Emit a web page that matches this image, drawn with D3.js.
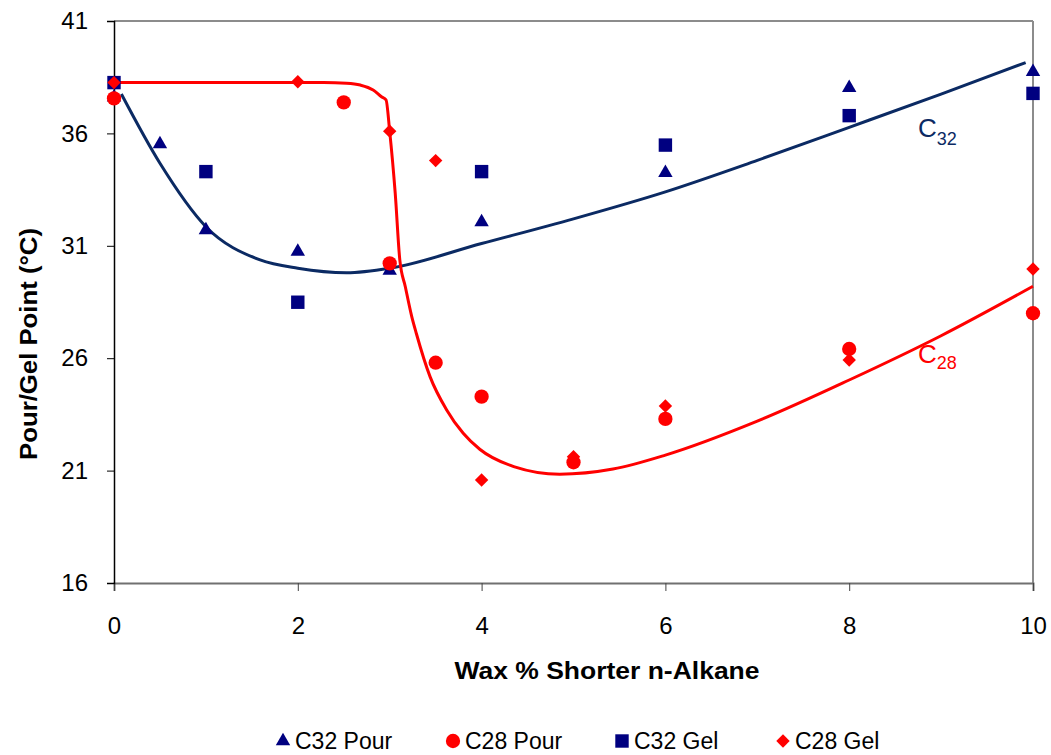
<!DOCTYPE html>
<html><head><meta charset="utf-8">
<script src="https://cdn.jsdelivr.net/npm/d3@7"></script>
<style>
body{margin:0;background:#fff;}
text{font-family:"Liberation Sans",Arial,sans-serif;}
</style></head>
<body><svg id="c" width="1051" height="755"></svg>
<script>
// ---- data ----
const c32PourX = [0, 0.5, 1, 2, 3, 4, 6, 8, 10];
const c32PourY = [37.6, 35.53, 31.7, 30.74, 29.9, 32.05, 34.25, 38.03, 38.74];
const c28PourX = [0, 2.5, 3, 3.5, 4, 5, 6, 8, 10];
const c28PourY = [37.56, 37.38, 30.22, 25.8, 24.29, 21.37, 23.3, 26.41, 28.0];
const c32GelX = [0, 1, 2, 4, 6, 8, 10];
const c32GelY = [38.26, 34.3, 28.49, 34.3, 35.48, 36.79, 37.78];
const c28GelX = [0, 2, 3, 3.5, 4, 5, 6, 8, 10];
const c28GelY = [38.26, 38.3, 36.1, 34.79, 20.58, 21.62, 23.87, 25.92, 29.97];

// fitted trend curves
const c32FitX = [0.08, 0.5, 1.0, 1.59, 2.0, 2.53, 3.0, 4.0, 5.0, 6.0, 7.0, 8.0, 9.0, 9.92];
const c32FitY = [37.75, 34.67, 31.85, 30.37, 30.0, 29.8, 30.0, 31.1, 32.2, 33.4, 34.8, 36.27, 37.75, 39.15];
const c28FitX = [0, 1, 2, 2.28, 2.53, 2.68, 2.82, 2.91, 2.96, 3.0, 3.06, 3.11, 3.17, 3.24, 3.29, 3.44, 3.62, 3.8, 3.98, 4.35, 4.85, 5.43, 6.0, 7.0, 8.0, 9.0, 10.0];
const c28FitY = [38.26, 38.26, 38.26, 38.26, 38.23, 38.15, 37.93, 37.63, 37.49, 36.08, 33.34, 30.37, 29.18, 27.85, 27.1, 25.17, 23.7, 22.66, 21.95, 21.18, 20.84, 21.07, 21.69, 23.2, 25.03, 27.0, 29.2];

const xTicks = [0, 2, 4, 6, 8, 10];
const yTicks = [16, 21, 26, 31, 36, 41];
const legendLabels = ["C32 Pour", "C28 Pour", "C32 Gel", "C28 Gel"];
const xTitle = "Wax % Shorter n-Alkane";
const yTitle = "Pour/Gel Point (°C)";

// ---- layout ----
const svg = d3.select("#c");
const L = 114, R = 1033, T = 21, B = 583;
const x = d3.scaleLinear().domain([0, 10]).range([L, R]);
const y = d3.scaleLinear().domain([16, 41]).range([B, T]);
const navy = "#000080", curveNavy = "#0b2a63", red = "#ff0000";

// frame
svg.append("line").attr("x1", L).attr("x2", R).attr("y1", T).attr("y2", T).attr("stroke", "#8c8c8c").attr("stroke-width", 2);
svg.append("line").attr("x1", R).attr("x2", R).attr("y1", T).attr("y2", B).attr("stroke", "#8c8c8c").attr("stroke-width", 2);

// x axis
const gx = svg.append("g").attr("transform", `translate(0,${B})`)
  .call(d3.axisBottom(x).tickValues(xTicks).tickSize(8).tickPadding(26).tickFormat(d3.format("d")));
gx.select(".domain").attr("stroke", "#707070").attr("stroke-width", 2);
gx.selectAll(".tick line").attr("stroke", "#444");
gx.selectAll("text").attr("font-size", 24).attr("fill", "#000").attr("font-family", "Liberation Sans, Arial");

// y axis
const gy = svg.append("g").attr("transform", `translate(${L},0)`)
  .call(d3.axisLeft(y).tickValues(yTicks).tickSize(7).tickPadding(19).tickFormat(d3.format("d")));
gy.select(".domain").attr("stroke", "#000").attr("stroke-width", 1.5);
gy.selectAll(".tick line").attr("stroke", "#000");
gy.selectAll("text").attr("font-size", 24).attr("fill", "#000").attr("font-family", "Liberation Sans, Arial");

// titles
svg.append("text").attr("x", 607).attr("y", 679).attr("text-anchor", "middle")
  .attr("font-size", 23).attr("font-weight", "bold")
  .attr("textLength", 305).attr("lengthAdjust", "spacingAndGlyphs").text(xTitle);
svg.append("text").attr("transform", "translate(37,344) rotate(-90)").attr("text-anchor", "middle")
  .attr("font-size", 23).attr("font-weight", "bold")
  .attr("textLength", 232).attr("lengthAdjust", "spacingAndGlyphs").text(yTitle);

// curves
const line = d3.line().x(d => x(d[0])).y(d => y(d[1])).curve(d3.curveMonotoneX);
svg.append("path").datum(c32FitX.map((v, i) => [v, c32FitY[i]])).attr("d", line)
  .attr("fill", "none").attr("stroke", curveNavy).attr("stroke-width", 3);
svg.append("path").datum(c28FitX.map((v, i) => [v, c28FitY[i]])).attr("d", line)
  .attr("fill", "none").attr("stroke", red).attr("stroke-width", 3);

// markers
const sym = {
  tri: d3.symbol().type(d3.symbolTriangle).size(90),
  circ: d3.symbol().type(d3.symbolCircle).size(160),
  sq: d3.symbol().type(d3.symbolSquare).size(180),
  dia: d3.symbol().type(d3.symbolSquare).size(90)
};
const series = [
  {xs: c32PourX, ys: c32PourY, s: "tri", c: navy, rot: 0},
  {xs: c28PourX, ys: c28PourY, s: "circ", c: red, rot: 0},
  {xs: c32GelX, ys: c32GelY, s: "sq", c: navy, rot: 0},
  {xs: c28GelX, ys: c28GelY, s: "dia", c: red, rot: 45}
];
series.forEach(se => {
  svg.append("g").selectAll("path").data(se.xs.map((v, i) => [v, se.ys[i]])).join("path")
    .attr("d", sym[se.s]())
    .attr("transform", d => `translate(${x(d[0])},${y(d[1])}) rotate(${se.rot})`)
    .attr("fill", se.c);
});

// curve labels
const lab1 = svg.append("text").attr("x", 918).attr("y", 137).attr("font-size", 26).attr("fill", curveNavy);
lab1.append("tspan").text("C");
lab1.append("tspan").attr("font-size", 18).attr("dy", 8).text("32");
const lab2 = svg.append("text").attr("x", 918).attr("y", 363).attr("font-size", 26).attr("fill", red);
lab2.append("tspan").text("C");
lab2.append("tspan").attr("font-size", 18).attr("dy", 6).text("28");

// legend
const legX = [283, 453, 622, 783];
series.forEach((se, i) => {
  svg.append("path").attr("d", sym[se.s]())
    .attr("transform", `translate(${legX[i]},741) rotate(${se.rot})`).attr("fill", se.c);
  svg.append("text").attr("x", legX[i] + 12).attr("y", 749).attr("font-size", 23).attr("fill", "#000").text(legendLabels[i]);
});
</script></body></html>
